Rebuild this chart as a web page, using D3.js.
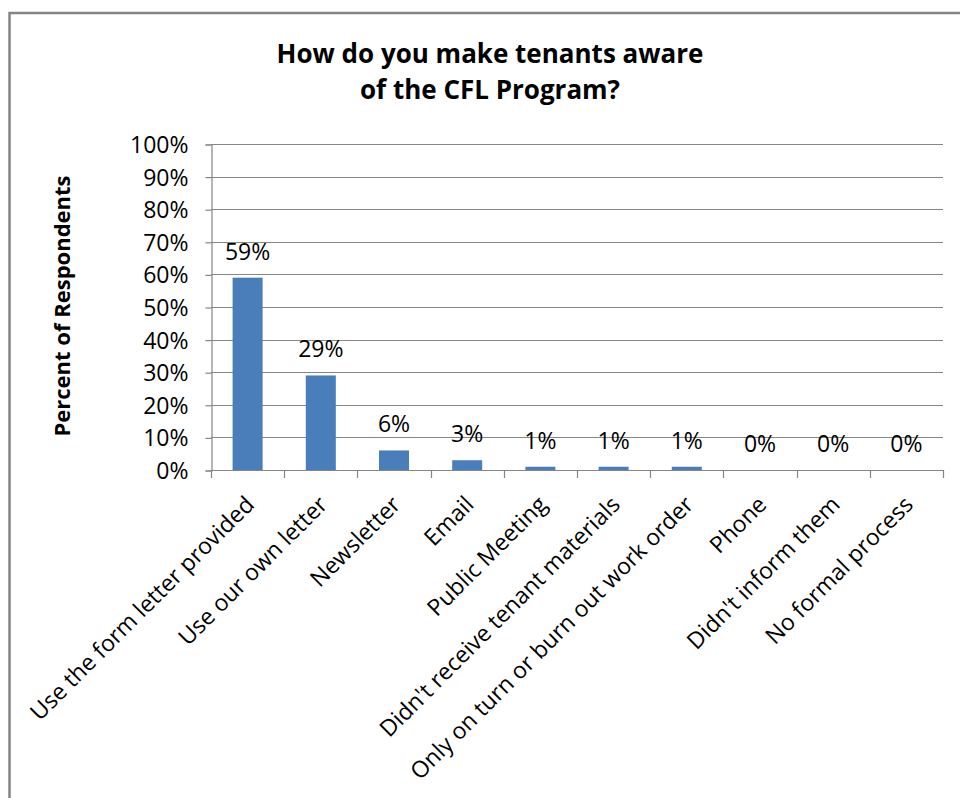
<!DOCTYPE html>
<html>
<head>
<meta charset="utf-8">
<script src="https://cdn.jsdelivr.net/npm/d3@7"></script>
<style>
  html, body { margin: 0; padding: 0; background: #fff; }
  svg { display: block; }
  text { font-family: "Open Sans", Lato, sans-serif; fill: #000; }
</style>
</head>
<body>
<svg id="chart" width="960" height="798"></svg>
<script>
// Survey answers and share of respondents (percent)
const categories = [
  "Use the form letter provided",
  "Use our own letter",
  "Newsletter",
  "Email",
  "Public Meeting",
  "Didn't receive tenant materials",
  "Only on turn or burn out work order",
  "Phone",
  "Didn't inform them",
  "No formal process"
];
const percents = [59, 29, 6, 3, 1, 1, 1, 0, 0, 0];
const yTicks = [0, 10, 20, 30, 40, 50, 60, 70, 80, 90, 100];
const titleLines = ["How do you make tenants aware", "of the CFL Program?"];
const yAxisTitle = "Percent of Respondents";

const svg = d3.select("#chart");

// outer chart frame
svg.append("path")
  .attr("d", "M9.5,800 V13 H962")
  .attr("fill", "none")
  .attr("stroke", "#858585")
  .attr("stroke-width", 2.5);

const plot = { left: 211, right: 943, top: 144, bottom: 470 };

const x = d3.scaleBand()
  .domain(categories)
  .range([plot.left, plot.right])
  .paddingInner(0.59)
  .paddingOuter(0.295);

const xStep = d3.scaleLinear()
  .domain([0, categories.length])
  .range([plot.left, plot.right]);

const y = d3.scaleLinear()
  .domain([0, 100])
  .range([plot.bottom, plot.top]);

// horizontal gridlines
svg.append("g")
  .selectAll("line")
  .data(yTicks.filter(d => d > 0))
  .join("line")
  .attr("x1", plot.left)
  .attr("x2", plot.right)
  .attr("y1", d => Math.round(y(d)) + 0.5)
  .attr("y2", d => Math.round(y(d)) + 0.5)
  .attr("stroke", "#868686")
  .attr("stroke-width", 1.2);

// y axis
const yAxis = svg.append("g")
  .attr("transform", `translate(${plot.left + 0.5},0.5)`)
  .call(d3.axisLeft(y).tickValues(yTicks).tickFormat(d => d + "%").tickSize(6).tickPadding(17));
yAxis.select(".domain").attr("stroke", "#868686").attr("stroke-width", 1.2);
yAxis.selectAll(".tick line").attr("stroke", "#868686").attr("stroke-width", 1.2);
yAxis.selectAll(".tick text")
  .attr("font-family", "'Open Sans', Lato, sans-serif")
  .attr("font-size", 23)
  .attr("fill", "#000")
  .attr("dy", "0.35em");

// x axis baseline and category boundary ticks
const xAxisG = svg.append("g");
xAxisG.append("line")
  .attr("x1", plot.left).attr("x2", plot.right)
  .attr("y1", plot.bottom + 0.5).attr("y2", plot.bottom + 0.5)
  .attr("stroke", "#868686").attr("stroke-width", 1.2);
xAxisG.selectAll("line.tk")
  .data(d3.range(categories.length + 1))
  .join("line")
  .attr("class", "tk")
  .attr("x1", d => Math.round(xStep(d)) + 0.5)
  .attr("x2", d => Math.round(xStep(d)) + 0.5)
  .attr("y1", plot.bottom)
  .attr("y2", plot.bottom + 8)
  .attr("stroke", "#868686").attr("stroke-width", 1.2);

// bars
svg.append("g")
  .selectAll("rect")
  .data(categories)
  .join("rect")
  .attr("x", d => x(d))
  .attr("width", x.bandwidth())
  .attr("y", (d, i) => y(percents[i]))
  .attr("height", (d, i) => plot.bottom - y(percents[i]))
  .attr("fill", "#4A7EBB");

// value labels
svg.append("g")
  .selectAll("text")
  .data(categories)
  .join("text")
  .attr("x", d => x(d) + x.bandwidth() / 2)
  .attr("y", (d, i) => y(percents[i]) - 18)
  .attr("text-anchor", "middle")
  .attr("font-size", 23)
  .text((d, i) => percents[i] + "%");

// rotated category labels
svg.append("g")
  .selectAll("text")
  .data(categories)
  .join("text")
  .attr("transform", d => `translate(${x(d) + x.bandwidth() / 2 + 8},${plot.bottom + 36}) rotate(-45)`)
  .attr("text-anchor", "end")
  .attr("font-size", 23)
  .text(d => d);

// title
svg.append("g")
  .selectAll("text")
  .data(titleLines)
  .join("text")
  .attr("x", 490)
  .attr("y", (d, i) => 63 + i * 36)
  .attr("text-anchor", "middle")
  .attr("font-size", 26)
  .attr("font-weight", "bold")
  .text(d => d);

// y axis title
svg.append("text")
  .attr("transform", "translate(70,306) rotate(-90)")
  .attr("text-anchor", "middle")
  .attr("font-size", 22)
  .attr("font-weight", "bold")
  .text(yAxisTitle);
</script>
</body>
</html>
